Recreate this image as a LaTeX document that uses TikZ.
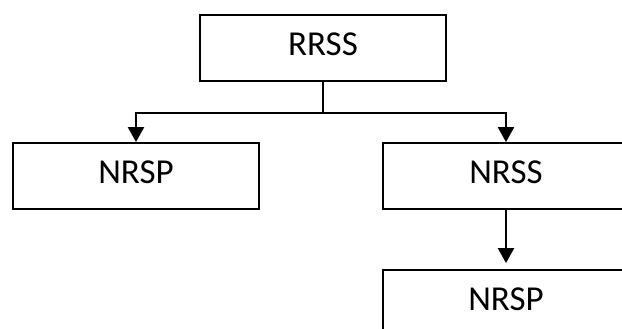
\documentclass[tikz,border=0pt]{standalone}
\usepackage{fontspec}
\setmainfont{Carlito}
\usetikzlibrary{arrows.meta}
\begin{document}
\begin{tikzpicture}[x=1pt,y=-1pt,
  boxnode/.style={draw=black,line width=1.8pt,minimum width=246pt,minimum height=66pt,inner sep=0pt,font=\fontsize{35}{38}\selectfont,text=black},
  lbl/.style={font=\fontsize{35}{38}\selectfont,text=black,inner sep=0pt},
  link/.style={draw=black,line width=2.2pt},
  arr/.style={link,-{Triangle[width=16pt,length=15pt]}}]
\useasboundingbox (0,0) rectangle (622,329);
\clip (0,0) rectangle (622,329);
\fill[white] (0,0) rectangle (622,329);
\node[boxnode] (rrss) at (323,48) {};
\node[lbl] at ([yshift=4pt]rrss.center) {RRSS};
\node[boxnode] (nrspa) at (136,176) {};
\node[lbl] at ([yshift=4pt]nrspa.center) {NRSP};
\node[boxnode] (nrss) at (506,176) {};
\node[lbl] at ([yshift=4pt]nrss.center) {NRSS};
\node[boxnode] (nrspb) at (506,303) {};
\node[lbl] at ([yshift=4pt]nrspb.center) {NRSP};
\draw[link] (rrss.south) -- ++(0,31) coordinate (j);
\draw[arr] (j) -| (nrspa.north);
\draw[arr] (j) -| (nrss.north);
\draw[arr] (nrss.south) -- ([yshift=6pt]nrspb.north);
\end{tikzpicture}
\end{document}
